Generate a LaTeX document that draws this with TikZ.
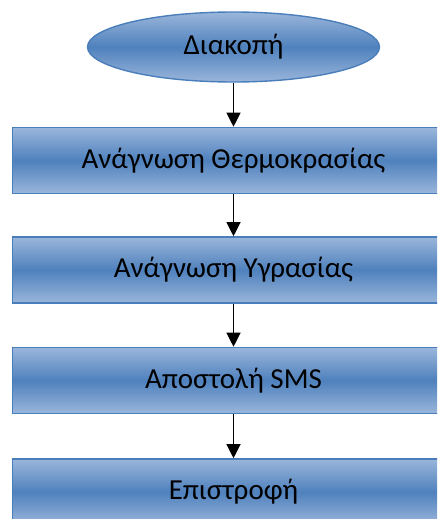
\documentclass[tikz,border=0pt]{standalone}
\usepackage{fontspec}
\setmainfont{Carlito}
\usetikzlibrary{shapes.geometric,arrows.meta}
\definecolor{flowlight}{HTML}{9AB6DB}
\definecolor{flowdark}{HTML}{4F81BD}
\definecolor{flowedge}{HTML}{4A7EBB}
\tikzset{
  flowfill/.style={top color=flowlight, bottom color=flowlight, middle color=flowdark},
  flowtext/.style={font=\fontsize{29}{32}\selectfont, text=black},
  procbox/.style={flowfill, flowtext, draw=flowedge, line width=1.6pt, minimum width=442pt, minimum height=66pt,
    inner sep=0pt},
  termnode/.style={ellipse, flowfill, flowtext, draw=flowedge, line width=1.4pt, minimum width=292pt, minimum height=70pt,
    inner sep=0pt},
  flowarrow/.style={draw=black, line width=1.2pt, -{Triangle[length=14pt,width=14pt]}}
}
\begin{document}
\begin{tikzpicture}[x=1pt,y=-1pt]
  \useasboundingbox (0,0) rectangle (437,519);
  \clip (0,0) rectangle (437,519);
  \node[termnode] (stop) at (233.5,47) {Διακοπή};
  \node[procbox] (temp) at (233.5,160.5) {Ανάγνωση Θερμοκρασίας};
  \node[procbox] (hum) at (233.5,270) {Ανάγνωση Υγρασίας};
  \node[procbox] (sms) at (233.5,380.5) {Αποστολή SMS};
  \node[procbox] (ret) at (233.5,492) {Επιστροφή};
  \draw[flowarrow] (stop.south) -- (temp.north);
  \draw[flowarrow] (temp.south) -- (hum.north);
  \draw[flowarrow] (hum.south) -- (sms.north);
  \draw[flowarrow] (sms.south) -- (ret.north);
\end{tikzpicture}
\end{document}
